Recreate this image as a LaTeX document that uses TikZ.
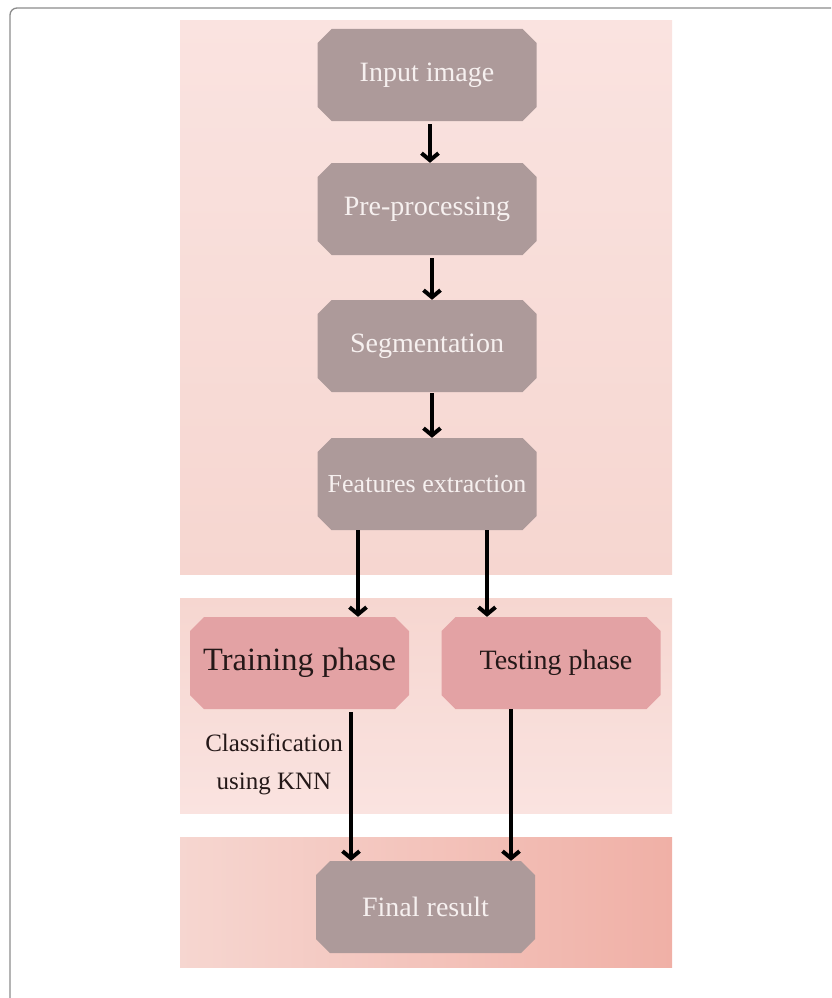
\documentclass[tikz,border=0pt]{standalone}
\usepackage{fontspec}
\setmainfont{Liberation Serif}
\usetikzlibrary{shapes.misc,arrows.meta}
\definecolor{boxgray}{HTML}{AD9A9A}
\definecolor{boxpink}{HTML}{E3A2A4}
\definecolor{txtlight}{HTML}{F6F0EF}
\definecolor{txtdark}{HTML}{241818}
\definecolor{bgA}{HTML}{FAE3E0}
\definecolor{bgB}{HTML}{F6D6D0}
\definecolor{bgC}{HTML}{F0B0A6}
\definecolor{framegray}{HTML}{8C8C8C}
\begin{document}
\begin{tikzpicture}[x=1pt,y=-1pt,
  basebox/.style={chamfered rectangle, chamfered rectangle xsep=7pt,
    chamfered rectangle ysep=7pt, draw=none, minimum width=219pt,
    minimum height=92pt, inner sep=0pt},
  gbox/.style={basebox, fill=boxgray, text=txtlight, font=\fontsize{28}{30}\selectfont},
  pbox/.style={basebox, fill=boxpink, text=txtdark, font=\fontsize{28}{30}\selectfont},
  arr/.style={line width=4pt, -{Straight Barb[length=7pt,width=17pt]}}]
\useasboundingbox (0,0) rectangle (831,998);
% frame
\draw[framegray, line width=1.3pt, rounded corners=7pt] (10,998) -- (10,8) -- (831,8);
% background panels
\shade[top color=bgA, bottom color=bgB] (180,21) rectangle (672,574);
\shade[top color=bgB, bottom color=bgA] (180,598) rectangle (672,813);
\shade[left color=bgB, right color=bgC] (180,837) rectangle (672,967);
% nodes
\node[gbox] (inp) at (427,75) {Input image};
\node[gbox] (pre) at (427,209) {Pre-processing};
\node[gbox] (seg) at (427,346) {Segmentation};
\node[gbox, font=\fontsize{26}{28}\selectfont] (feat) at (427,484) {Features extraction};
\node[pbox, font=\fontsize{32.5}{34}\selectfont] (train) at (299.5,663) {Training phase};
\node[pbox] (test) at (551,663) {\hspace*{10pt}Testing phase};
\node[gbox] (final) at (425.5,907) {Final result};
\node[font=\fontsize{25}{38}\selectfont, align=center, text=txtdark] (cls) at (274,764) {Classification\\using KNN};
% arrow x positions
\coordinate (a1) at (430,0);
\coordinate (a2) at (432,0);
\coordinate (a4) at (358,0);
\coordinate (a5) at (487,0);
\coordinate (a6) at (351,0);
\coordinate (a7) at (511,0);
% connectors
\draw[arr, shorten <=3pt] (inp.south -| a1) -- (pre.north -| a1);
\draw[arr, shorten <=3pt] (pre.south -| a2) -- (seg.north -| a2);
\draw[arr, shorten <=1pt] (seg.south -| a2) -- (feat.north -| a2);
\draw[arr] (feat.south -| a4) -- (train.north -| a4);
\draw[arr] (feat.south -| a5) -- (test.north -| a5);
\draw[arr, shorten <=3pt] (train.south -| a6) -- (final.north -| a6);
\draw[arr] (test.south -| a7) -- (final.north -| a7);
\end{tikzpicture}
\end{document}
